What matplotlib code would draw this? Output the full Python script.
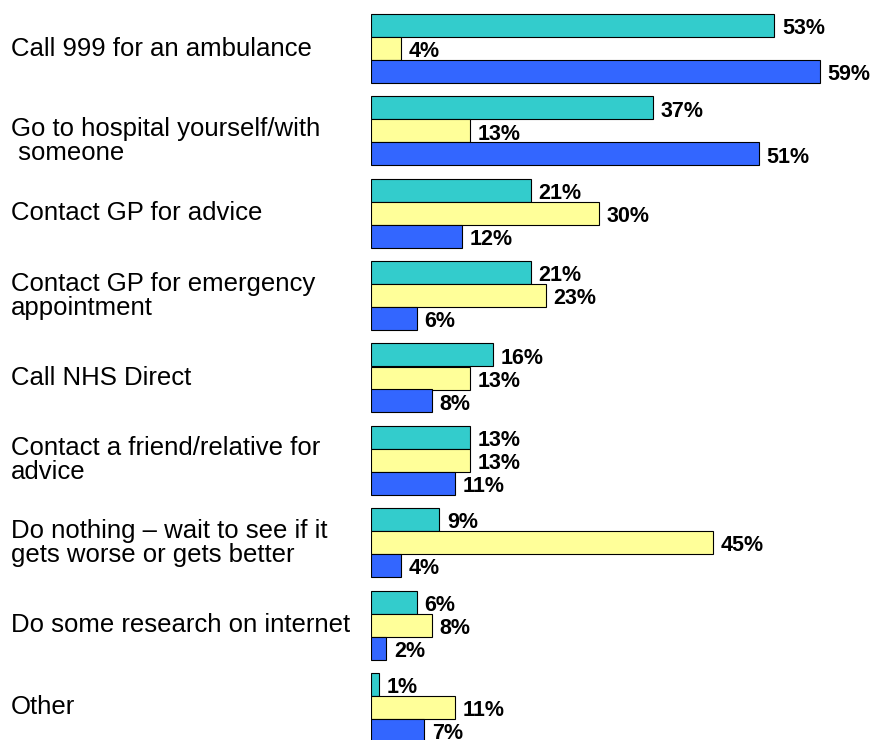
import numpy as np
import matplotlib
matplotlib.use("Agg")
import matplotlib.pyplot as plt

# ── DATA ─────────────────────────────────────────────────────────────────────
categories = [
    "Call 999 for an ambulance",
    "Go to hospital yourself/with\n someone",
    "Contact GP for advice",
    "Contact GP for emergency\nappointment",
    "Call NHS Direct",
    "Contact a friend/relative for\nadvice",
    "Do nothing \u2013 wait to see if it\ngets worse or gets better",
    "Do some research on internet",
    "Other",
]
series_a = [53, 37, 21, 21, 16, 13, 9, 6, 1]     # teal
series_b = [4, 13, 30, 23, 13, 13, 45, 8, 11]    # yellow
series_c = [59, 51, 12, 6, 8, 11, 4, 2, 7]       # blue

COLORS = ["#33CCCC", "#FFFF99", "#3366FF"]

plt.rcParams["font.family"] = ["Liberation Sans", "DejaVu Sans"]

# ── PLOT ─────────────────────────────────────────────────────────────────────
W, H = 872, 740
fig = plt.figure(figsize=(W / 100, H / 100), dpi=100)
ax = fig.add_axes([371 / W, 0, 1 - 371 / W, 1])

group_px = 82.375
bar_h = 23 / group_px
idx = np.arange(len(categories))

for j, (vals, col) in enumerate(zip([series_a, series_b, series_c], COLORS)):
    ys = idx + (j + 0.5) * bar_h
    ax.barh(ys, vals, height=bar_h, color=col, edgecolor="black", linewidth=0.8)
    for y, v in zip(ys, vals):
        ax.annotate(f"{v}%", (v, y), xytext=(5.5, -0.5), textcoords="offset points",
                    ha="left", va="center_baseline", fontsize=15.5,
                    fontweight="bold")

# category labels on the left (the hospital label sits a little lower)
label_shift = [0, 10, 0, 0, 0, 0, 0, 0, 0]
for i, lab in enumerate(categories):
    fig.text(11 / W, 1 - (14 + group_px * i + 34.5 + label_shift[i]) / H, lab,
             ha="left", va="center", fontsize=18.5, linespacing=1.0)

ax.set_xlim(0, (W - 371) / 7.61)
ax.set_ylim((H - 14) / group_px, -14 / group_px)
ax.axis("off")

fig.savefig("out.png", dpi=100)
